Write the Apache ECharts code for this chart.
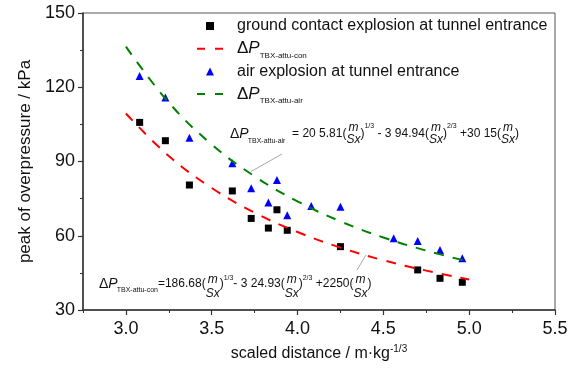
<!DOCTYPE html>
<html>
<head>
<meta charset="utf-8">
<script src="https://cdn.jsdelivr.net/npm/echarts@6/dist/echarts.min.js"></script>
<style>
html,body{margin:0;padding:0;background:#fff;}
#chart{width:574px;height:369px;}
</style>
</head>
<body>
<div id="chart"></div>
<script>
// ---- data ----
const conX = [3.08, 3.23, 3.37, 3.62, 3.73, 3.83, 3.88, 3.94, 4.25, 4.70, 4.83, 4.96];
const conY = [105.8, 98.4, 80.5, 78.1, 67.0, 63.1, 70.5, 62.2, 55.6, 46.2, 42.8, 41.2];
const airX = [3.08, 3.23, 3.37, 3.62, 3.73, 3.83, 3.88, 3.94, 4.08, 4.25, 4.56, 4.70, 4.83, 4.96];
const airY = [124.5, 115.9, 99.6, 89.3, 79.2, 73.4, 82.5, 68.3, 72.0, 71.7, 59.0, 57.9, 54.2, 50.9];
const fitX = [3.0, 3.25, 3.5, 3.75, 4.0, 4.25, 4.5, 4.75, 5.0];
const conFitY = [109.4, 92.2, 79.3, 69.3, 61.5, 55.2, 50.1, 45.9, 42.3];
const airFitY = [136.4, 113.8, 96.9, 84.0, 73.9, 65.8, 59.3, 54.0, 49.5];
const xTickLabels = [3.0, 3.5, 4.0, 4.5, 5.0, 5.5];
const yTickLabels = [30, 60, 90, 120, 150];
const seriesNames = [
  'ground contact explosion at tunnel entrance',
  'ΔP_TBX-attu-con',
  'air explosion at tunnel entrance',
  'ΔP_TBX-attu-air'
];

const FONT = 'Liberation Sans, Arial, sans-serif';
const zip = (xs, ys) => xs.map((x, i) => [x, ys[i]]);

// ---- equation annotation layout helper ----
const mctx = document.createElement('canvas').getContext('2d');
function fnt(size, italic) { return (italic ? 'italic ' : '') + size + 'px "Liberation Sans", Arial, sans-serif'; }
function mw(t, size, italic) { mctx.font = fnt(size, italic); return mctx.measureText(t).width; }
function eqElements(x0, y0, tokens, fracDy) {
  const els = [];
  let x = x0;
  for (const tk of tokens) {
    if (tk.frac) {
      const w = Math.max(mw(tk.frac[0], tk.s, true), mw(tk.frac[1], tk.s, true));
      els.push({type: 'text', x: x + w / 2, y: y0 + fracDy[0], style: {text: tk.frac[0], font: fnt(tk.s, true), fill: '#111', align: 'center', verticalAlign: 'middle'}});
      els.push({type: 'text', x: x + w / 2, y: y0 + fracDy[1], style: {text: tk.frac[1], font: fnt(tk.s, true), fill: '#111', align: 'center', verticalAlign: 'middle'}});
      x += w;
    } else {
      els.push({type: 'text', x: x, y: y0 + (tk.dy || 0), style: {text: tk.t, font: fnt(tk.s, tk.i), fill: '#111', align: 'left', verticalAlign: 'middle'}});
      x += mw(tk.t, tk.s, tk.i) + (tk.k || 0);
    }
  }
  return els;
}
const FR = {frac: ['m', 'Sx'], s: 12};
const airEq = [
  {t: 'Δ', s: 14}, {t: 'P', s: 14, i: true, k: -1}, {t: 'TBX-attu-air', s: 7, dy: 7},
  {t: '  = 20 5.81(', s: 12}, FR, {t: ')', s: 12}, {t: '1/3', s: 7, dy: -8},
  {t: ' - 3 94.94(', s: 12}, FR, {t: ')', s: 12}, {t: '2/3', s: 7, dy: -8},
  {t: ' +30 15(', s: 12}, FR, {t: ')', s: 12}
];
const conEq = [
  {t: 'Δ', s: 14}, {t: 'P', s: 14, i: true, k: -1}, {t: 'TBX-attu-con', s: 7, dy: 6},
  {t: '=186.68(', s: 12}, FR, {t: ')', s: 12}, {t: '1/3', s: 7, dy: -6},
  {t: '- 3 24.93(', s: 12}, FR, {t: ')', s: 12}, {t: '2/3', s: 7, dy: -6},
  {t: ' +2250(', s: 12}, FR, {t: ')', s: 12}
];

const graphics = [
  {type: 'line', shape: {x1: 251, y1: 171.5, x2: 282, y2: 154}, style: {stroke: '#aaa', lineWidth: 1}},
  {type: 'line', shape: {x1: 366, y1: 255, x2: 357, y2: 270}, style: {stroke: '#aaa', lineWidth: 1}}
].concat(eqElements(230, 134, airEq, [-6, 6]), eqElements(99, 284, conEq, [-4, 10]));

const SQUARE = 'path://M0,0L1,0L1,1L0,1Z';
const TRI = 'path://M0.5,0L1,1L0,1Z';

const chart = echarts.init(document.getElementById('chart'), null, {renderer: 'canvas'});
const axisLineStyle = {color: '#333', width: 1.5};
const option = {
  animation: false,
  backgroundColor: '#fff',
  grid: {left: 83, right: 19, top: 13, bottom: 59, show: true, borderColor: '#555', borderWidth: 1, backgroundColor: 'transparent'},
  legend: {
    orient: 'vertical', left: 196, top: 15, padding: 0, itemGap: 0.7,
    itemWidth: 26, itemHeight: 8, symbolKeepAspect: true,
    data: [
      {name: seriesNames[0], icon: SQUARE},
      {name: seriesNames[1], itemStyle: {opacity: 0}, lineStyle: {type: [8, 10], width: 2}},
      {name: seriesNames[2], icon: TRI},
      {name: seriesNames[3], itemStyle: {opacity: 0}, lineStyle: {type: [8, 10], width: 2}}
    ],
    formatter: function (name) {
      if (name.indexOf('ΔP_') === 0) return '{d|Δ}{p|P}{s|' + name.slice(3) + '}';
      return '{t|' + name + '}';
    },
    textStyle: {
      fontFamily: FONT, color: '#111', fontSize: 16, lineHeight: 22,
      rich: {
        t: {fontSize: 16, lineHeight: 22, fontFamily: FONT, color: '#111', padding: [0, 0, 0, 9]},
        d: {fontSize: 17, lineHeight: 22, fontFamily: FONT, color: '#111', padding: [0, 0, 0, 9]},
        p: {fontSize: 17, lineHeight: 22, fontFamily: FONT, fontStyle: 'italic', color: '#111'},
        s: {fontSize: 8, lineHeight: 8, fontFamily: FONT, color: '#111', verticalAlign: 'bottom'}
      }
    }
  },
  xAxis: [
    {
      type: 'value', min: 2.75, max: 5.5, interval: 0.25, position: 'bottom',
      axisLine: {show: true, lineStyle: axisLineStyle},
      axisTick: {show: true, length: 3, lineStyle: {color: '#333', width: 1}},
      axisLabel: {show: false}, splitLine: {show: false},
      name: '{a|scaled distance / m·kg}{s|-1/3}', nameLocation: 'middle', nameGap: 34,
      nameTextStyle: {rich: {
        a: {fontSize: 16, fontFamily: FONT, color: '#111', lineHeight: 20},
        s: {fontSize: 10, fontFamily: FONT, color: '#111', lineHeight: 10, verticalAlign: 'top'}
      }}
    },
    {
      type: 'value', min: 2.75, max: 5.5, position: 'bottom',
      axisLine: {show: false},
      axisTick: {show: true, length: 5, customValues: xTickLabels, lineStyle: {color: '#333', width: 1.2}},
      axisLabel: {show: true, customValues: xTickLabels, formatter: v => v.toFixed(1), fontSize: 18, fontFamily: FONT, color: '#111', margin: 10},
      splitLine: {show: false}
    }
  ],
  yAxis: {
    type: 'value', min: 30, max: 150, interval: 30,
    axisLine: {show: true, lineStyle: axisLineStyle},
    axisTick: {show: true, length: 5, lineStyle: {color: '#333', width: 1.2}},
    minorTick: {show: true, splitNumber: 2, length: 3, lineStyle: {color: '#333', width: 1}},
    axisLabel: {fontSize: 18, fontFamily: FONT, color: '#111', margin: 8,
      formatter: v => (yTickLabels.indexOf(v) >= 0 ? String(v) : '')},
    splitLine: {show: false}, minorSplitLine: {show: false},
    name: 'peak of overpressure / kPa', nameLocation: 'middle', nameGap: 41,
    nameTextStyle: {fontSize: 17, fontFamily: FONT, color: '#111'}
  },
  series: [
    {name: seriesNames[0], type: 'scatter', symbol: 'rect', symbolSize: 7, itemStyle: {color: '#000', opacity: 1}, data: zip(conX, conY)},
    {name: seriesNames[2], type: 'scatter', symbol: 'triangle', symbolSize: 8, itemStyle: {color: '#0000ff', opacity: 1}, data: zip(airX, airY)},
    {name: seriesNames[1], type: 'line', smooth: 0.4, symbol: 'none', showSymbol: false,
      lineStyle: {color: '#ff0000', width: 2, type: [10, 9]}, itemStyle: {color: '#ff0000'}, data: zip(fitX, conFitY)},
    {name: seriesNames[3], type: 'line', smooth: 0.4, symbol: 'none', showSymbol: false,
      lineStyle: {color: '#008000', width: 2, type: [10, 9]}, itemStyle: {color: '#008000'}, data: zip(fitX, airFitY)}
  ],
  graphic: graphics
};
chart.setOption(option);
</script>
</body>
</html>
